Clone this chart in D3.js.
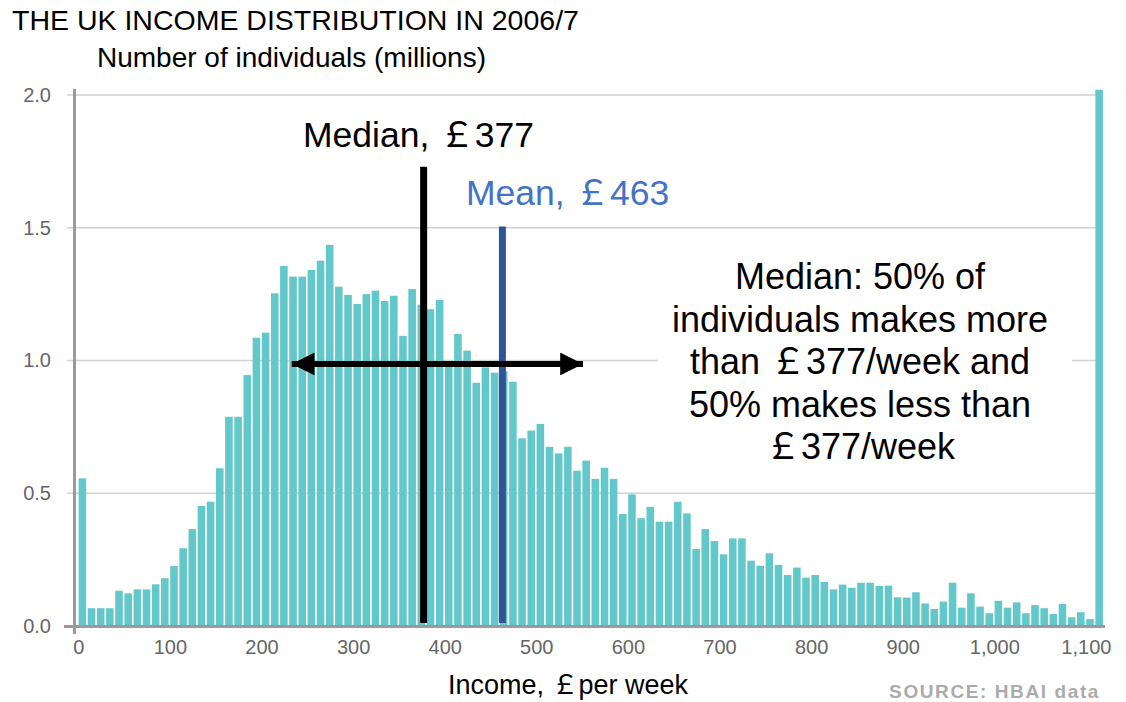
<!DOCTYPE html>
<html>
<head>
<meta charset="utf-8">
<script src="https://cdn.jsdelivr.net/npm/d3@7"></script>
<style>
  html, body { margin: 0; padding: 0; background: #fff; }
  svg { display: block; }
</style>
</head>
<body>
<svg id="chart" width="1126" height="702"></svg>
<script>
// ---- DATA ----
// lower bound of each £10 income band (last band = top-coded group)
const bandStart = [0,10,20,30,40,50,60,70,80,90,100,110,120,130,140,150,160,170,180,190,
  200,210,220,230,240,250,260,270,280,290,300,310,320,330,340,350,360,370,380,390,
  400,410,420,430,440,450,460,470,480,490,500,510,520,530,540,550,560,570,580,590,
  600,610,620,630,640,650,660,670,680,690,700,710,720,730,740,750,760,770,780,790,
  800,810,820,830,840,850,860,870,880,890,900,910,920,930,940,950,960,970,980,990,
  1000,1010,1020,1030,1040,1050,1060,1070,1080,1090,1100,1110];
// number of individuals (millions) in each band
const individuals = [0.556,0.067,0.067,0.067,0.133,0.123,0.138,0.138,0.157,0.180,
  0.226,0.293,0.365,0.452,0.468,0.594,0.788,0.788,0.945,1.086,
  1.105,1.253,1.356,1.316,1.316,1.341,1.376,1.435,1.278,1.247,
  1.213,1.250,1.263,1.224,1.244,1.093,1.269,1.210,1.193,1.228,
  0.990,1.100,1.037,0.916,0.974,0.954,0.960,0.920,0.707,0.736,
  0.761,0.675,0.650,0.675,0.585,0.623,0.554,0.596,0.554,0.422,
  0.496,0.406,0.449,0.393,0.393,0.468,0.424,0.290,0.365,0.320,
  0.270,0.330,0.330,0.246,0.227,0.274,0.230,0.192,0.220,0.182,
  0.192,0.166,0.138,0.156,0.144,0.163,0.163,0.151,0.152,0.108,
  0.107,0.127,0.085,0.064,0.092,0.163,0.069,0.123,0.073,0.048,
  0.095,0.069,0.089,0.048,0.079,0.067,0.045,0.083,0.033,0.052,
  0.026,2.020];
const bandWidth = 10;
const xTicks = [0,100,200,300,400,500,600,700,800,900,1000,1100];
const yTicks = [0,0.5,1.0,1.5,2.0];
const medianIncome = 377;
const meanIncome = 463;
const medianLabel = "Median, \uFFE1377";
const meanLabel = "Mean, \uFFE1463";
const noteLines = ["Median: 50% of", "individuals makes more", "than \uFFE1377/week and", "50% makes less than", "\uFFE1377/week"];
const titleText = "THE UK INCOME DISTRIBUTION IN 2006/7";
const yTitleText = "Number of individuals (millions)";
const xTitleText = "Income, \uFFE1per week";
const sourceText = "SOURCE: HBAI data";

// ---- CHART ----
const FONT = "'Liberation Sans', Arial, Helvetica, 'Noto Sans CJK SC', sans-serif";
const NARROW = "'Liberation Sans Narrow', 'Liberation Sans', Arial, sans-serif";
const svg = d3.select("#chart");

const x = d3.scaleLinear().domain([0, 1120]).range([78.3, 78.3 + 1120 * 0.916]);
const y = d3.scaleLinear().domain([0, 2]).range([626, 95]);

const data = bandStart.map((s, i) => ({start: s, value: individuals[i]}));

// gridlines
svg.append("g").selectAll("line").data(yTicks.filter(d => d > 0)).join("line")
  .attr("x1", 67).attr("x2", 1096)
  .attr("y1", d => y(d)).attr("y2", d => y(d))
  .attr("stroke", "#d2d2d2").attr("stroke-width", 1.5);

// bars
svg.append("g").selectAll("rect").data(data).join("rect")
  .attr("x", d => x(d.start) + 0.3)
  .attr("width", x(bandWidth) - x(0) - 1.6)
  .attr("y", d => y(d.value))
  .attr("height", d => y(0) - y(d.value))
  .attr("fill", "#62c8c9");

// axes lines
svg.append("line").attr("x1", 74.5).attr("x2", 74.5).attr("y1", 89).attr("y2", 634)
  .attr("stroke", "#9a9a9a").attr("stroke-width", 3);
svg.append("line").attr("x1", 64).attr("x2", 1105).attr("y1", y(0) + 0.5).attr("y2", y(0) + 0.5)
  .attr("stroke", "#9a9a9a").attr("stroke-width", 3);

// y axis labels
const yAxis = d3.axisLeft(y).tickValues(yTicks).tickFormat(d3.format(".1f")).tickSize(0).tickPadding(0);
const gy = svg.append("g").attr("transform", "translate(51,0)").call(yAxis);
gy.select(".domain").remove();
gy.selectAll("text").attr("font-family", NARROW).attr("font-size", 20).attr("fill", "#666");

// x axis labels
const xAxis = d3.axisBottom(x).tickValues(xTicks).tickFormat(d3.format(",")).tickSize(0).tickPadding(0);
const gx = svg.append("g").attr("transform", "translate(0,640)").call(xAxis);
gx.select(".domain").remove();
gx.selectAll("text").attr("font-family", NARROW).attr("font-size", 20).attr("fill", "#666");

// median / mean lines
svg.append("line").attr("x1", x(medianIncome)).attr("x2", x(medianIncome))
  .attr("y1", y(1.73)).attr("y2", y(0) - 3)
  .attr("stroke", "#000").attr("stroke-width", 7);
svg.append("line").attr("x1", x(meanIncome)).attr("x2", x(meanIncome))
  .attr("y1", y(1.505)).attr("y2", y(0) - 3)
  .attr("stroke", "#2f5597").attr("stroke-width", 7);

// double arrow
const defs = svg.append("defs");
["start", "end"].forEach(k => {
  defs.append("marker").attr("id", "ah-" + k)
    .attr("viewBox", "0 0 10 10").attr("refX", k === "end" ? 10 : 0).attr("refY", 5)
    .attr("markerWidth", 4.4).attr("markerHeight", 3.8).attr("markerUnits", "strokeWidth")
    .attr("orient", "auto")
    .append("path")
    .attr("d", k === "end" ? "M0,0 L10,5 L0,10 Z" : "M10,0 L0,5 L10,10 Z")
    .attr("fill", "#000");
});
svg.append("line")
  .attr("x1", x(233)).attr("x2", x(551))
  .attr("y1", y(0.987)).attr("y2", y(0.987))
  .attr("stroke", "#000").attr("stroke-width", 6)
  .attr("marker-start", "url(#ah-start)").attr("marker-end", "url(#ah-end)");

// annotation labels
svg.append("text").attr("x", 303).attr("y", 147).text(medianLabel)
  .attr("font-family", FONT).attr("font-size", 35.5).attr("fill", "#000");
svg.append("text").attr("x", 466).attr("y", 205).text(meanLabel)
  .attr("font-family", FONT).attr("font-size", 35.5).attr("fill", "#4472c4");

svg.append("rect").attr("x", 658).attr("y", 250).attr("width", 414).attr("height", 220).attr("fill", "#fff");
svg.append("text").attr("font-family", FONT).attr("font-size", 36).attr("fill", "#000")
  .attr("text-anchor", "middle")
  .selectAll("tspan").data(noteLines).join("tspan")
  .attr("x", 860).attr("y", (d, i) => 289 + i * 42.5).text(d => d);

// titles
svg.append("text").attr("x", 12).attr("y", 30).text(titleText)
  .attr("font-family", FONT).attr("font-size", 28.5).attr("fill", "#000");
svg.append("text").attr("x", 97).attr("y", 67).text(yTitleText)
  .attr("font-family", FONT).attr("font-size", 28).attr("fill", "#000");
svg.append("text").attr("x", 568).attr("y", 694).attr("text-anchor", "middle").text(xTitleText)
  .attr("font-family", FONT).attr("font-size", 27).attr("fill", "#000");
svg.append("text").attr("x", 1100).attr("y", 698).attr("text-anchor", "end").text(sourceText)
  .attr("font-family", FONT).attr("font-size", 19).attr("font-weight", "bold")
  .attr("letter-spacing", 1.6).attr("fill", "#ababab");
</script>
</body>
</html>
